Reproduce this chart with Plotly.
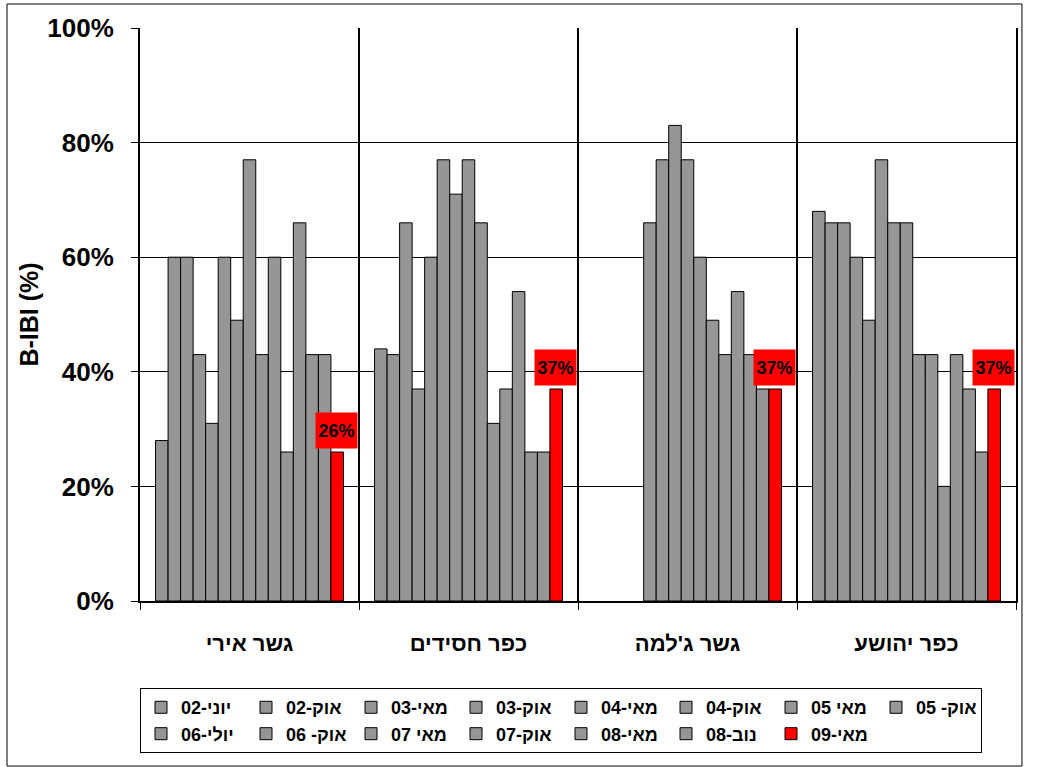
import plotly.graph_objects as go

# ---------------- data ----------------
categories = ["גשר אירי", "כפר חסידים", "גשר ג'למה", "כפר יהושע"]
series_names = ["יוני-02", "אוק-02", "מאי-03", "אוק-03", "מאי-04", "אוק-04",
                "מאי 05", "אוק- 05", "יולי-06", "אוק- 06", "מאי 07", "אוק-07",
                "מאי-08", "נוב-08", "מאי-09"]
# B-IBI (%) per site, in series order
gesher_iri = [28, 60, 60, 43, 31, 60, 49, 77, 43, 60, 26, 66, 43, 43, 26]
kfar_hasidim = [44, 43, 66, 37, 60, 77, 71, 77, 66, 31, 37, 54, 26, 26, 37]
gesher_jalame = [None, None, None, None, 66, 77, 83, 77, 60, 49, 43, 54, 43, 37, 37]
kfar_yehoshua = [68, 66, 66, 60, 49, 77, 66, 66, 43, 43, 20, 43, 37, 26, 37]
y_tick_values = [0, 0.2, 0.4, 0.6, 0.8, 1.0]

sites = [gesher_iri, kfar_hasidim, gesher_jalame, kfar_yehoshua]

# ---------------- style ----------------
FONT = "Arial, 'Liberation Sans', sans-serif"
GRAY = "#969696"
RED = "#FF0000"
BARGAP = 0.142

x_pos = list(range(len(categories)))
n_series = len(series_names)

fig = go.Figure()
for k, name in enumerate(series_names):
    vals = [s[k] for s in sites]
    yv = [None if v is None else v / 100 for v in vals]
    color = RED if k == n_series - 1 else GRAY
    fig.add_trace(go.Bar(
        x=x_pos, y=yv, name=name,
        marker=dict(color=color, line=dict(color="black", width=1)),
        hoverinfo="skip",
    ))

# labels on the last (red) series
group_w = 1 - BARGAP
bar_w = group_w / n_series
last_offset = -group_w / 2 + (n_series - 0.5) * bar_w
annotations = []
for i, s in enumerate(sites):
    v = s[-1]
    annotations.append(dict(
        x=i + last_offset, y=v / 100, xref="x", yref="y",
        text=f"{v}%", showarrow=False, yanchor="bottom", yshift=3, xshift=-1,
        bgcolor=RED, borderpad=0, width=41, height=35,
        font=dict(family=FONT, size=18, color="black", weight="bold"),
    ))

fig.update_layout(
    width=1040, height=767, autosize=False,
    margin=dict(l=140, r=24, t=28, b=166),
    paper_bgcolor="white", plot_bgcolor="white",
    barmode="group", bargap=BARGAP, bargroupgap=0,
    font=dict(family=FONT, color="black"),
    showlegend=True,
    legend=dict(
        orientation="h", x=0, xanchor="left", y=-0.152, yanchor="top",
        bordercolor="black", borderwidth=1, bgcolor="white",
        font=dict(family=FONT, size=18, color="black", weight="bold"),
        entrywidth=60, entrywidthmode="pixels", traceorder="normal",
    ),
    annotations=annotations,
    shapes=[dict(type="rect", xref="paper", yref="paper",
                 x0=-0.1518, x1=1.0068, y0=-0.288, y1=1.0419,
                 line=dict(color="black", width=1), fillcolor="rgba(0,0,0,0)",
                 layer="below")],
)

fig.update_xaxes(
    range=[-0.5, len(categories) - 0.5],
    tickmode="array", tickvals=x_pos, ticktext=categories,
    ticks="", showgrid=False, zeroline=False,
    showline=True, linecolor="black", linewidth=2,
    tickfont=dict(family=FONT, size=22, color="black", weight="bold"),
    ticklabelstandoff=22,
    minor=dict(tickmode="array", tickvals=[i - 0.5 for i in range(len(categories) + 1)],
               ticks="outside", ticklen=7, tickcolor="black", tickwidth=1,
               showgrid=True, gridcolor="black", gridwidth=1.5),
)

fig.update_yaxes(
    range=[0, 1], tickmode="array", tickvals=y_tick_values, tickformat=".0%",
    showgrid=True, gridcolor="black", gridwidth=1, zeroline=False,
    showline=True, linecolor="black", linewidth=2, mirror=True,
    ticks="outside", ticklen=7, tickcolor="black", tickwidth=1,
    tickfont=dict(family=FONT, size=26, color="black", weight="bold"),
    ticklabelstandoff=12,
    title=dict(text="B-IBI (%)", standoff=2,
               font=dict(family=FONT, size=25, color="black", weight="bold")),
)

fig.write_html("out.html", config={"displayModeBar": False},
               post_script="document.body.style.margin='0px';")
